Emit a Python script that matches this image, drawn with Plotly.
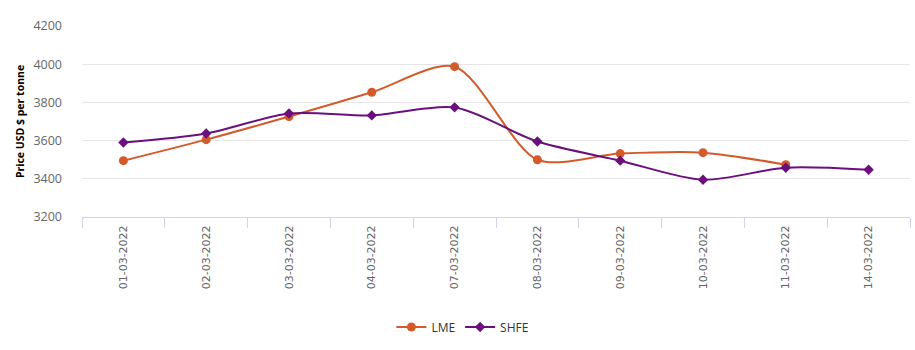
import plotly.graph_objects as go

dates = ["01-03-2022", "02-03-2022", "03-03-2022", "04-03-2022", "07-03-2022",
         "08-03-2022", "09-03-2022", "10-03-2022", "11-03-2022", "14-03-2022"]
lme = [3495, 3605, 3726, 3853, 3987, 3500, 3532, 3537, 3474, None]
shfe = [3590, 3637, 3742, 3732, 3774, 3595, 3495, 3395, 3458, 3447]
yticks = [3200, 3400, 3600, 3800, 4000, 4200]

lme_color = "#D45A2B"
shfe_color = "#6B0F7C"

fig = go.Figure()
fig.add_trace(go.Scatter(
    x=dates, y=lme, name="LME", mode="lines+markers",
    line=dict(color=lme_color, width=2, shape="spline", smoothing=0.8),
    marker=dict(symbol="circle", size=9, color=lme_color),
))
fig.add_trace(go.Scatter(
    x=dates, y=shfe, name="SHFE", mode="lines+markers",
    line=dict(color=shfe_color, width=2, shape="spline", smoothing=0.8),
    marker=dict(symbol="diamond", size=8, color=shfe_color),
))

fig.update_layout(
    width=915, height=350,
    margin=dict(l=82, r=5, t=26, b=133),
    paper_bgcolor="white", plot_bgcolor="white",
    font=dict(family="Open Sans, DejaVu Sans, sans-serif", color="#666666"),
    showlegend=True,
    legend=dict(orientation="h", x=0.46, xanchor="center", y=-0.576, yanchor="middle",
                font=dict(size=12, color="#333333", family="Open Sans, sans-serif"),
                itemwidth=30),
    xaxis=dict(
        type="category", tickangle=-90, tickson="boundaries",
        ticks="outside", ticklen=10, tickcolor="#ccd6eb",
        showline=True, linecolor="#ccd6eb", linewidth=1,
        showgrid=False, tickfont=dict(size=11, color="#666666", family="DejaVu Sans, sans-serif"),
        range=[-0.5, 9.5], ticklabelstandoff=3,
    ),
    yaxis=dict(
        range=[3200, 4200], tickvals=yticks, showgrid=True, gridcolor="#e6e6e6",
        zeroline=False, tickfont=dict(size=12.5, color="#666666"),
        title=dict(text="<b>Price USD $ per tonne</b>", font=dict(size=10.5, color="#000000"), standoff=6),
        ticklabelstandoff=19,
    ),
)

fig.write_html("out.html")
